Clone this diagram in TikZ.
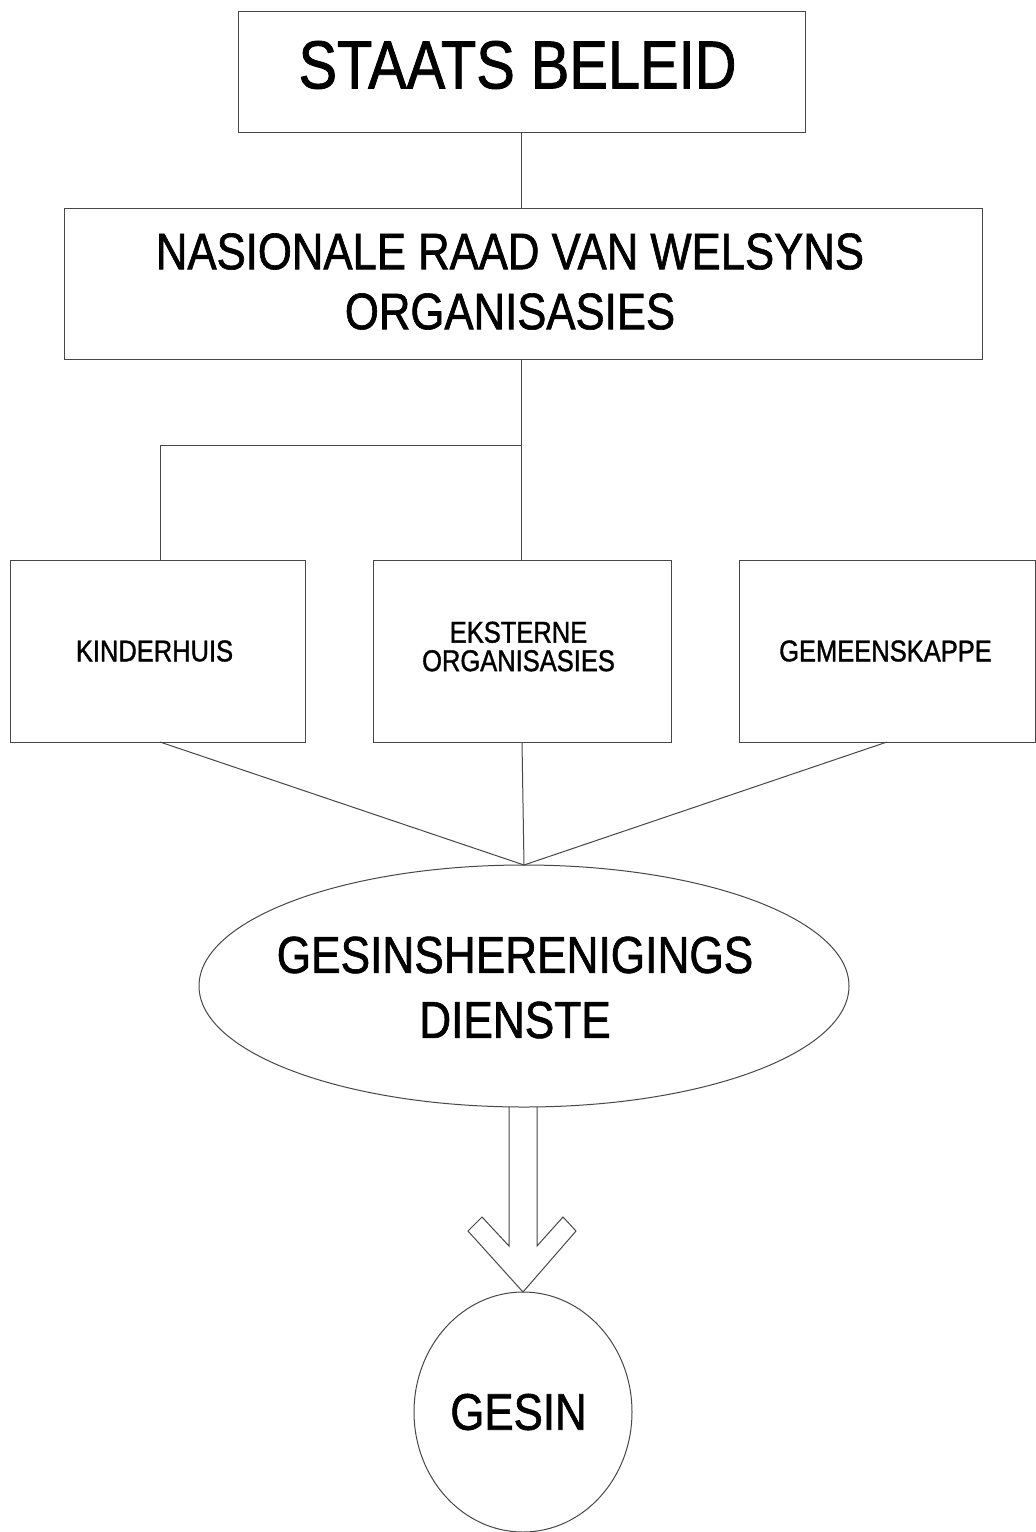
\documentclass[tikz,border=0pt]{standalone}
\usepackage{fontspec}
\setmainfont{Liberation Sans}[FakeStretch=0.85,FakeBold=1.2]
\usetikzlibrary{shapes.geometric,calc}
\tikzset{
  ln/.style={draw=black!72, line width=1pt},
  box/.style={ln, rectangle, inner sep=0pt, outer sep=0pt},
  oval/.style={ln, ellipse, inner sep=0pt, outer sep=0pt},
  txt/.style={align=center, text=black, inner sep=0pt},
  big/.style={font={\fontsize{68}{70}\selectfont}},
  mid/.style={font={\fontsize{51.4}{60}\selectfont}},
  midb/.style={font={\fontsize{52}{65}\selectfont}},
  small/.style={font={\fontsize{30}{28.5}\selectfont}},
}
\begin{document}
\begin{tikzpicture}[x=1pt,y=-1pt]
\useasboundingbox[fill=white] (0,0) rectangle (1036,1532);
% boxes
\node[box,minimum width=567,minimum height=121,
  label={[txt,big,xshift=-4pt,yshift=6.5pt]center:STAATS BELEID}] (staats) at (521.5,71.5) {};
\node[box,minimum width=918,minimum height=151,
  label={[txt,mid,xshift=-13pt,yshift=2pt]center:NASIONALE RAAD VAN WELSYNS\\ORGANISASIES}] (nas) at (523,283.5) {};
\node[box,minimum width=295,minimum height=182,
  label={[txt,small,xshift=-3pt]center:KINDERHUIS}] (kind) at (157.5,651) {};
\node[box,minimum width=298,minimum height=182,
  label={[txt,small,xshift=-3.5pt,yshift=4.5pt]center:EKSTERNE\\ORGANISASIES}] (eks) at (522,651) {};
\node[box,minimum width=296,minimum height=182,
  label={[txt,small,xshift=-1.5pt]center:GEMEENSKAPPE}] (gem) at (887,651) {};
\node[oval,minimum width=650,minimum height=242,
  label={[txt,midb,xshift=-9pt,yshift=-1.5pt]center:GESINSHERENIGINGS\\DIENSTE}] (gen) at (524,986) {};
\node[oval,minimum width=218,minimum height=240,
  label={[txt,font={\fontsize{51.5}{55}\selectfont},xshift=-4.5pt]center:GESIN}] (gesin) at (523,1412) {};
% connectors
\coordinate (j) at (521,445);
\draw[ln] (staats.south -| j) -- (nas.north -| j);
\draw[ln] (nas.south -| j) -- (eks.north -| j);
\draw[ln] (j) -| ([xshift=2.5pt]kind.north);
\draw[ln] ([xshift=2.5pt]kind.south) -- (gen.north);
\draw[ln] (eks.south) -- (gen.north);
\draw[ln] (gem.south) -- (gen.north);
% hollow arrow
\draw[ln, line join=miter]
  ($(gen.south)+(-15,0)$) -- ($(gesin.north)+(-14,-46)$) -- ($(gesin.north)+(-41,-75)$)
  -- ($(gesin.north)+(-55,-61)$) -- (gesin.north) -- ($(gesin.north)+(53,-61)$)
  -- ($(gesin.north)+(40,-75)$) -- ($(gesin.north)+(14,-46)$) -- ($(gen.south)+(13,0)$);
\end{tikzpicture}
\end{document}
